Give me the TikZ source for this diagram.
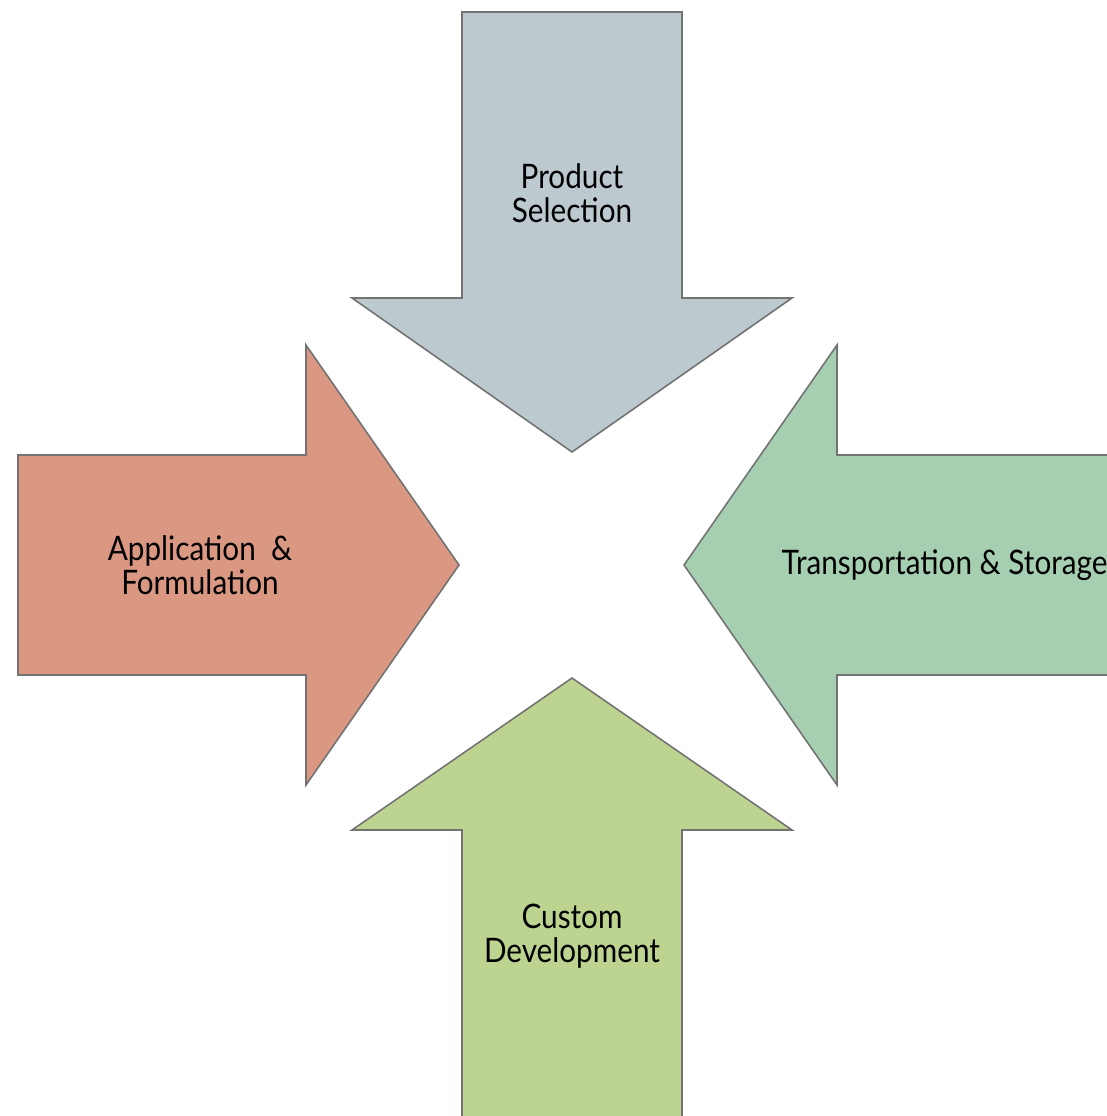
\documentclass[tikz,border=0pt]{standalone}
\usepackage{fontspec}
\setmainfont{Lato}[FakeStretch=0.88]
\usetikzlibrary{positioning}
\definecolor{selgray}{HTML}{BCC9CE}
\definecolor{appred}{HTML}{DA9883}
\definecolor{trgreen}{HTML}{A6CEB1}
\definecolor{devgreen}{HTML}{BDD390}

\begin{document}
\begin{tikzpicture}[x=0.01cm,y=-0.01cm,
    arrowbox/.style={draw=black!55,line width=0.45pt},
    lbl/.style={font=\fontsize{9.6}{9.8}\selectfont,align=center,text=black,inner sep=0pt}]

      \useasboundingbox (0,0) rectangle (1107,1116);
      \clip (0,0) rectangle (1107,1116);

      % top
      \draw[arrowbox,fill=selgray] (462,12) -- (682,12) -- (682,298) -- (792,298)
        -- (572,452) -- (352,298) -- (462,298) -- cycle;
      % left
      \draw[arrowbox,fill=appred] (18,455) -- (306,455) -- (306,345) -- (459,565)
        -- (306,785) -- (306,675) -- (18,675) -- cycle;
      % right
      \draw[arrowbox,fill=trgreen] (1130,455) -- (837,455) -- (837,345) -- (684,565)
        -- (837,785) -- (837,675) -- (1130,675) -- cycle;
      % bottom
      \draw[arrowbox,fill=devgreen] (462,1140) -- (462,830) -- (352,830) -- (572,678)
        -- (792,830) -- (682,830) -- (682,1140) -- cycle;

      \node[lbl] (sel) at (572,193) {Product\\Selection};
      \node[lbl] (app) at (200,565) {Application\ \ \&\\Formulation};
      \node[lbl,anchor=west] (tra) at (781,565) {Transportation \& Storage};
      \node[lbl] (dev) at (572,936) {Custom\\Development};
    \end{tikzpicture}
\end{document}
